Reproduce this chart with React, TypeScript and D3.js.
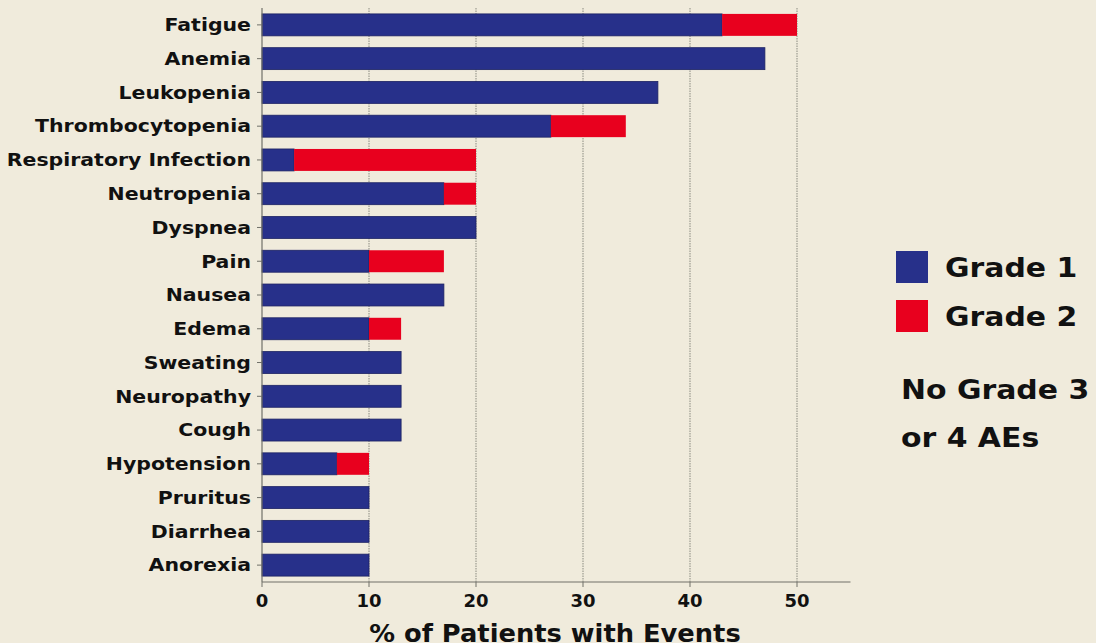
import React from "react";
import * as d3 from "d3";

const categories = [
  "Fatigue", "Anemia", "Leukopenia", "Thrombocytopenia", "Respiratory Infection",
  "Neutropenia", "Dyspnea", "Pain", "Nausea", "Edema", "Sweating", "Neuropathy",
  "Cough", "Hypotension", "Pruritus", "Diarrhea", "Anorexia",
];
const grade1 = [43, 47, 37, 27, 3, 17, 20, 10, 17, 10, 13, 13, 13, 7, 10, 10, 10];
const grade2 = [7, 0, 0, 7, 17, 3, 0, 7, 0, 3, 0, 0, 0, 3, 0, 0, 0];
const xTicks = [0, 10, 20, 30, 40, 50];
const seriesNames = ["Grade 1", "Grade 2"];
const noteLines = ["No Grade 3", "or 4 AEs"];

const W = 1096, H = 643;
const BG = "#f0ebdc";
const BLUE = "#27308a";
const RED = "#e8001e";
const FONT = "'DejaVu Sans', Verdana, sans-serif";

export default function App() {
  const left = 262, right = 850.5, top = 8, bottom = 582;
  const x = d3.scaleLinear().domain([0, 55]).range([left, right]);
  const y = d3.scaleBand<string>().domain(categories).range([top, bottom]).paddingInner(0.35).paddingOuter(0.175);
  const bw = y.bandwidth();
  const colors = [BLUE, RED];

  return (
    <svg width={W} height={H} style={{ position: "absolute", left: 0, top: 0, background: BG }} fontFamily={FONT}>
      <rect x={0} y={0} width={W} height={H} fill={BG} />
      {/* grid */}
      {xTicks.filter(t => t > 0).map(t => (
        <line key={t} x1={x(t)} x2={x(t)} y1={top} y2={bottom} stroke="#8a8a80" strokeWidth={1} strokeDasharray="1.5,1" />
      ))}
      {/* bars */}
      {categories.map((c, i) => {
        const y0 = y(c)!;
        return (
          <g key={c}>
            <rect x={x(0)} y={y0} width={x(grade1[i]) - x(0)} height={bw} fill={BLUE} stroke="#1c2263" strokeWidth={0.8} />
            {grade2[i] > 0 && (
              <rect x={x(grade1[i])} y={y0} width={x(grade1[i] + grade2[i]) - x(grade1[i])} height={bw} fill={RED} />
            )}
          </g>
        );
      })}
      {/* y axis */}
      <line x1={left} x2={left} y1={top} y2={bottom} stroke="#707068" strokeWidth={1.2} />
      {categories.map(c => {
        const cy = y(c)! + bw / 2;
        return (
          <g key={c}>
            <line x1={left - 5} x2={left} y1={cy} y2={cy} stroke="#707068" strokeWidth={1} />
            <text transform={`translate(${left - 11},${cy}) scale(1.17,1)`} dy="0.36em" textAnchor="end" fontWeight="bold" fontSize={17.5} fill="#111">{c}</text>
          </g>
        );
      })}
      {/* x axis */}
      <line x1={left} x2={right} y1={bottom} y2={bottom} stroke="#707068" strokeWidth={1.2} />
      {xTicks.map(t => (
        <g key={t}>
          <line x1={x(t)} x2={x(t)} y1={bottom} y2={bottom + 5} stroke="#707068" strokeWidth={1} />
          <text x={x(t)} y={607} textAnchor="middle" fontWeight="bold" fontSize={18} fill="#111">{t}</text>
        </g>
      ))}
      <text transform={`translate(555,642) scale(1.03,1)`} textAnchor="middle" fontWeight="bold" fontSize={25} fill="#111">% of Patients with Events</text>
      {/* legend */}
      {seriesNames.map((s, i) => (
        <g key={s}>
          <rect x={896} y={251 + i * 49} width={32} height={32} fill={colors[i]} />
          <text transform={`translate(945,${277 + i * 49}) scale(1.15,1)`} fontWeight="bold" fontSize={26} fill="#111">{s}</text>
        </g>
      ))}
      {noteLines.map((l, i) => (
        <text key={l} transform={`translate(901,${399 + i * 48}) scale(1.15,1)`} fontWeight="bold" fontSize={26} fill="#111">{l}</text>
      ))}
    </svg>
  );
}
